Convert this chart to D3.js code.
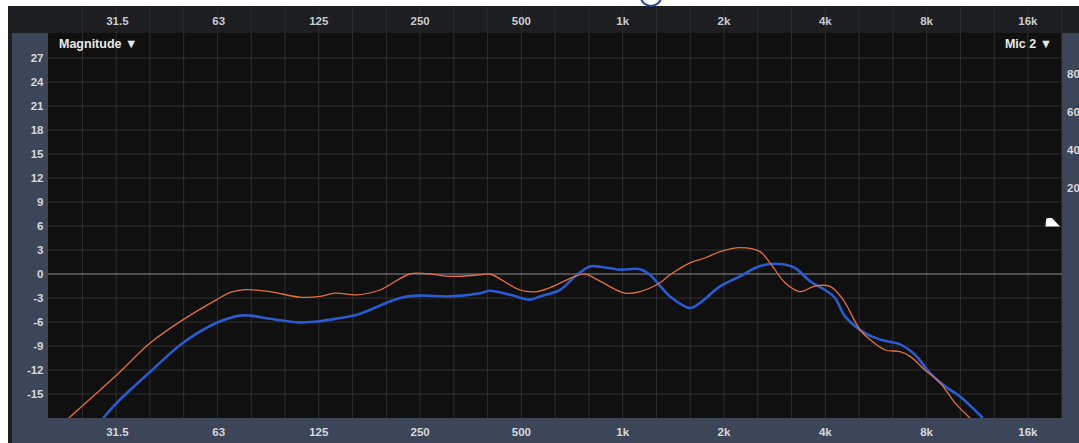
<!DOCTYPE html>
<html>
<head>
<meta charset="utf-8">
<script src="https://cdn.jsdelivr.net/npm/d3@7"></script>
<style>
  html, body { margin: 0; padding: 0; background: #ffffff; }
  svg { display: block; }
  text { font-family: "Liberation Sans", Arial, sans-serif; font-weight: bold; }
</style>
</head>
<body>
<svg id="chart" width="1079" height="443"></svg>
<script>
// Frequency-axis labels (octave bands)
const freqTicks = [31.5, 63, 125, 250, 500, 1000, 2000, 4000, 8000, 16000];
const freqTickLabels = ["31.5", "63", "125", "250", "500", "1k", "2k", "4k", "8k", "16k"];
// Magnitude-axis labels (dB)
const dbTicks = [27, 24, 21, 18, 15, 12, 9, 6, 3, 0, -3, -6, -9, -12, -15];
// Right-hand coherence scale labels
const cohTicks = [80, 60, 40, 20];

// Trace 1 (orange): frequency in Hz, magnitude in dB
const orangeFreq = [22.6, 31.4, 39.5, 49.4, 62.2, 68.2, 75.5, 89.6, 110, 126, 139.7, 162, 190, 233, 268, 307, 377, 403,
  495, 556, 608, 722, 773, 856, 1016, 1126, 1291, 1382, 1585, 1756, 1947, 2232, 2558, 2740, 3036, 3364, 3729, 4132,
  4516, 5073, 5431, 6020, 6671, 7141, 7914, 8767, 9713, 10762];
const orangeDb = [-18, -12.6, -8.6, -5.7, -3.2, -2.3, -1.96, -2.2, -2.9, -2.8, -2.4, -2.6, -2.0, 0, 0, -0.3, -0.1, 0,
  -2.0, -2.2, -1.7, -0.3, 0, -0.9, -2.4, -2.2, -1.1, -0.1, 1.4, 2.0, 2.8, 3.3, 2.8, 1.4, -1.1, -2.2, -1.5, -1.55,
  -3.2, -7.0, -8.2, -9.5, -9.7, -10.3, -12.0, -13.6, -16.1, -18];

// Trace 2 (blue): frequency in Hz, magnitude in dB
const blueFreq = [28.6, 31.4, 39.5, 49.4, 62.2, 72.9, 78.1, 89.6, 110, 126, 144.6, 162.4, 218, 250, 307, 377, 403,
  463, 530, 568, 651, 722, 799, 856, 982, 1126, 1205, 1291, 1382, 1585, 1697, 1947, 2232, 2558, 2934, 3252, 3603,
  3993, 4275, 4579, 5249, 5815, 6671, 7392, 8190, 9074, 10050, 11760];
const blueDb = [-18, -16.1, -12.2, -8.6, -6.1, -5.2, -5.2, -5.6, -6.05, -5.9, -5.5, -5.1, -3.0, -2.7, -2.8, -2.4, -2.1,
  -2.6, -3.2, -2.8, -2.0, -0.3, 0.95, 0.9, 0.55, 0.6, -0.1, -1.5, -2.8, -4.25, -3.6, -1.55, -0.3, 1.0, 1.25, 0.75, -0.9,
  -2.0, -3.0, -5.3, -7.4, -8.2, -8.8, -10.1, -12.4, -14.05, -15.3, -18];

const svg = d3.select("#chart");
const W = 1079, H = 443;
const plot = { left: 48, right: 1062, top: 33, bottom: 418 };

const x = d3.scaleLog().domain([19.6, 20200]).range([plot.left, plot.right]);
const y = d3.scaleLinear().domain([-18, 30]).range([plot.bottom, plot.bottom - 48 * 8]);

// Frame: dark header, slate side panels and footer
svg.append("rect").attr("x", 8).attr("y", 6).attr("width", W - 8).attr("height", H - 6).attr("fill", "#1d1e21");
svg.append("rect").attr("x", 12).attr("y", plot.top).attr("width", plot.left - 12).attr("height", H - plot.top).attr("fill", "#3d4658");
svg.append("rect").attr("x", 12).attr("y", plot.bottom).attr("width", W - 12).attr("height", H - plot.bottom).attr("fill", "#3d4658");
svg.append("rect").attr("x", plot.right).attr("y", plot.top).attr("width", W - plot.right).attr("height", H - plot.top).attr("fill", "#3d4658");
svg.append("rect").attr("x", plot.left).attr("y", plot.top).attr("width", plot.right - plot.left).attr("height", plot.bottom - plot.top).attr("fill", "#101010");

// Third-octave grid
const gridFreqs = d3.range(-16, 15).map(n => 1000 * Math.pow(2, n / 3));
const grid = svg.append("g");
grid.selectAll("line.hdr").data(gridFreqs).join("line")
  .attr("x1", d => x(d)).attr("x2", d => x(d))
  .attr("y1", 6).attr("y2", plot.top)
  .attr("stroke", "#2a2b2f").attr("stroke-width", 1);
grid.selectAll("line.v").data(gridFreqs).join("line")
  .attr("x1", d => x(d)).attr("x2", d => x(d))
  .attr("y1", plot.top).attr("y2", plot.bottom)
  .attr("stroke", "#2e2e2f").attr("stroke-width", 1);
grid.selectAll("line.h").data(dbTicks.filter(d => d !== 0)).join("line")
  .attr("x1", plot.left).attr("x2", plot.right)
  .attr("y1", d => y(d)).attr("y2", d => y(d))
  .attr("stroke", "#2e2e2f").attr("stroke-width", 1);
grid.append("line")
  .attr("x1", plot.left).attr("x2", plot.right)
  .attr("y1", y(0)).attr("y2", y(0))
  .attr("stroke", "#8c8c8c").attr("stroke-width", 1);

// Axis labels
const labelColor = "#d6d8dc";
svg.append("g").selectAll("text").data(dbTicks).join("text")
  .attr("x", 43.5).attr("y", d => y(d)).attr("dy", "0.35em")
  .attr("text-anchor", "end").attr("font-size", 11.5).attr("fill", labelColor)
  .text(d => d);

const topAxis = svg.append("g");
topAxis.selectAll("text").data(freqTicks).join("text")
  .attr("x", d => x(d)).attr("y", 21).attr("dy", "0.35em")
  .attr("text-anchor", "middle").attr("font-size", 11.5).attr("fill", "#c9cbcf")
  .text((d, i) => freqTickLabels[i]);

const bottomAxis = svg.append("g");
bottomAxis.selectAll("text").data(freqTicks).join("text")
  .attr("x", d => x(d)).attr("y", 432).attr("dy", "0.35em")
  .attr("text-anchor", "middle").attr("font-size", 11.5).attr("fill", labelColor)
  .text((d, i) => freqTickLabels[i]);

svg.append("g").selectAll("text").data(cohTicks).join("text")
  .attr("x", 1067).attr("y", (d, i) => 74 + i * 38).attr("dy", "0.35em")
  .attr("font-size", 11.5).attr("fill", labelColor)
  .text(d => d);

// Panel captions
svg.append("text").attr("x", 59).attr("y", 44).attr("dy", "0.35em")
  .attr("font-size", 12.5).attr("fill", "#e8e8e8").text("Magnitude ▼");
svg.append("text").attr("x", 1052).attr("y", 44).attr("dy", "0.35em")
  .attr("text-anchor", "end").attr("font-size", 12.5).attr("fill", "#e8e8e8").text("Mic 2 ▼");

// Level marker on the right edge
svg.append("path")
  .attr("d", "M1046,220 Q1046,218 1048,218 L1052,218 L1060,226.5 L1045.5,226.5 Z")
  .attr("fill", "#ffffff");

// Partial indicator ring above the header
svg.append("ellipse").attr("cx", 651).attr("cy", -3).attr("rx", 10).attr("ry", 9)
  .attr("fill", "none").attr("stroke", "#23449a").attr("stroke-width", 2);

// Traces
svg.append("clipPath").attr("id", "plotClip").append("rect")
  .attr("x", plot.left).attr("y", plot.top).attr("width", plot.right - plot.left).attr("height", plot.bottom - plot.top);

const line = d3.line().x(d => x(d[0])).y(d => y(d[1])).curve(d3.curveCatmullRom.alpha(0.5));
const traces = svg.append("g").attr("clip-path", "url(#plotClip)");

traces.append("path")
  .datum(d3.zip(blueFreq, blueDb))
  .attr("d", line).attr("fill", "none")
  .attr("stroke", "#2b5bcf").attr("stroke-width", 2.6).attr("stroke-linejoin", "round");

traces.append("path")
  .datum(d3.zip(orangeFreq, orangeDb))
  .attr("d", line).attr("fill", "none")
  .attr("stroke", "#e2703e").attr("stroke-width", 1.3).attr("stroke-linejoin", "round");
</script>
</body>
</html>
